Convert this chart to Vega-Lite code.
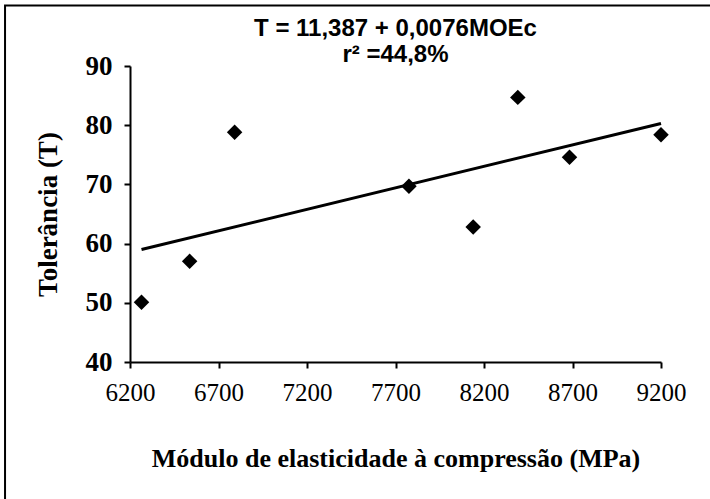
{
  "$schema": "https://vega.github.io/schema/vega-lite/v6.json",
  "width": 531,
  "height": 296,
  "autosize": {"type": "none"},
  "padding": {"left": 130, "top": 66, "right": 49, "bottom": 137},
  "background": "white",
  "config": {"view": {"stroke": null}},
  "title": {
    "text": ["T = 11,387 + 0,0076MOEc", "r² =44,8%"],
    "font": "Liberation Sans",
    "fontSize": 24,
    "fontWeight": "bold",
    "color": "black",
    "lineHeight": 26,
    "anchor": "middle",
    "offset": -62
  },
  "datasets": {
    "points": [
      {"MOEc": 6265, "T": 50.1},
      {"MOEc": 6537, "T": 57.0},
      {"MOEc": 6791, "T": 78.8},
      {"MOEc": 7776, "T": 69.7},
      {"MOEc": 8139, "T": 62.8},
      {"MOEc": 8391, "T": 84.7},
      {"MOEc": 8683, "T": 74.6},
      {"MOEc": 9200, "T": 78.4}
    ],
    "trend": [
      {"MOEc": 6265, "T": 59.0},
      {"MOEc": 9200, "T": 80.3}
    ],
    "frame": [
      {"x1": 5494, "x2": 11000, "y1": 100.2, "y2": 0}
    ]
  },
  "layer": [
    {
      "data": {"name": "frame"},
      "mark": {"type": "rect", "fill": null, "stroke": "black", "strokeWidth": 2, "clip": false},
      "encoding": {
        "x": {"field": "x1", "type": "quantitative", "scale": {"domain": [6200, 9200], "nice": false, "zero": false}},
        "x2": {"field": "x2"},
        "y": {"field": "y1", "type": "quantitative", "scale": {"domain": [40, 90], "nice": false, "zero": false}},
        "y2": {"field": "y2"}
      }
    },
    {
      "data": {"name": "trend"},
      "mark": {"type": "line", "color": "black", "strokeWidth": 3},
      "encoding": {
        "x": {"field": "MOEc", "type": "quantitative"},
        "y": {"field": "T", "type": "quantitative"}
      }
    },
    {
      "data": {"name": "points"},
      "mark": {"type": "point", "shape": "diamond", "filled": true, "color": "black", "size": 240, "opacity": 1},
      "encoding": {
        "x": {
          "field": "MOEc",
          "type": "quantitative",
          "axis": {
            "values": [6200, 6700, 7200, 7700, 8200, 8700, 9200],
            "format": "d",
            "grid": false,
            "title": "Módulo de elasticidade à compressão (MPa)",
            "titleFont": "Liberation Serif",
            "titleFontSize": 26,
            "titleFontWeight": "bold",
            "titleColor": "black",
            "titlePadding": 40,
            "labelFont": "Liberation Serif",
            "labelFontSize": 25,
            "labelColor": "black",
            "labelPadding": 12,
            "labelFlush": false,
            "labelOverlap": false,
            "domainColor": "black",
            "domainWidth": 2,
            "tickColor": "black",
            "tickWidth": 2,
            "tickSize": 6
          }
        },
        "y": {
          "field": "T",
          "type": "quantitative",
          "axis": {
            "values": [40, 50, 60, 70, 80, 90],
            "grid": false,
            "title": "Tolerância (T)",
            "titleFont": "Liberation Serif",
            "titleFontSize": 27,
            "titleFontWeight": "bold",
            "titleColor": "black",
            "titlePadding": 23,
            "labelFont": "Liberation Serif",
            "labelFontSize": 27,
            "labelFontWeight": "bold",
            "labelColor": "black",
            "labelPadding": 12,
            "labelFlush": false,
            "domainColor": "black",
            "domainWidth": 2,
            "tickColor": "black",
            "tickWidth": 2,
            "tickSize": 6
          }
        }
      }
    }
  ]
}
